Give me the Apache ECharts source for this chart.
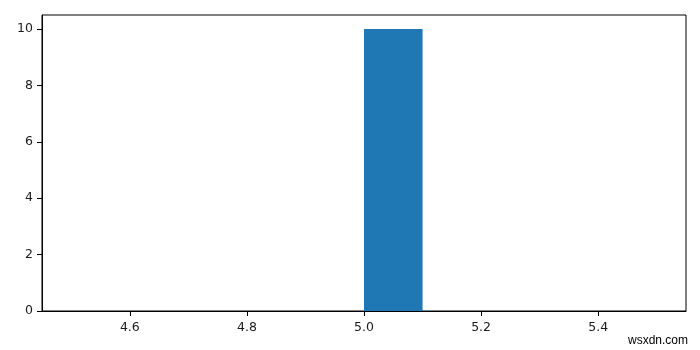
<!DOCTYPE html>
<html>
<head>
<meta charset="utf-8">
<script src="https://cdn.jsdelivr.net/npm/echarts@6/dist/echarts.min.js"></script>
<style>html,body{margin:0;padding:0;background:#fff}#c{width:700px;height:350px}</style>
</head>
<body>
<div id="c"></div>
<script>
// Histogram bin edges and counts
const binEdges = [4.5, 4.6, 4.7, 4.8, 4.9, 5.0, 5.1, 5.2, 5.3, 5.4, 5.5];
const counts = [0, 0, 0, 0, 0, 10, 0, 0, 0, 0];
const xTicks = [4.6, 4.8, 5.0, 5.2, 5.4];
const yTicks = [0, 2, 4, 6, 8, 10];

const data = counts.map((c, i) => [binEdges[i], binEdges[i + 1], c]);

const chart = echarts.init(document.getElementById('c'), null, {renderer: 'canvas'});
const font = 'DejaVu Sans';
chart.setOption({
  animation: false,
  grid: {left: 42, right: 14, top: 15, bottom: 39, show: true, borderColor: '#000', borderWidth: 1, backgroundColor: 'transparent'},
  xAxis: {
    type: 'value', min: 4.45, max: 5.55,
    axisLine: {show: true, onZero: false, lineStyle: {color: '#000', width: 1}},
    axisTick: {show: true, length: 5, lineStyle: {color: '#000'}, customValues: xTicks},
    axisLabel: {customValues: xTicks, formatter: v => v.toFixed(1), color: '#1a1a1a', fontFamily: font, fontSize: 12.5, margin: 10},
    splitLine: {show: false}
  },
  yAxis: {
    type: 'value', min: 0, max: 10.5,
    axisLine: {show: true, lineStyle: {color: '#000', width: 1}},
    axisTick: {show: true, length: 5, lineStyle: {color: '#000'}, customValues: yTicks},
    axisLabel: {customValues: yTicks, color: '#1a1a1a', fontFamily: font, fontSize: 12.5, margin: 9},
    splitLine: {show: false}
  },
  series: [{
    type: 'custom',
    data: data,
    encode: {x: [0, 1], y: 2},
    renderItem: function (params, api) {
      const p0 = api.coord([api.value(0), api.value(2)]);
      const p1 = api.coord([api.value(1), 0]);
      return {
        type: 'rect',
        shape: {x: p0[0], y: p0[1], width: p1[0] - p0[0], height: p1[1] - p0[1]},
        style: {fill: '#1f77b4'}
      };
    }
  }],
  graphic: [{
    type: 'text', right: 12, bottom: 3,
    style: {text: 'wsxdn.com', fill: '#000', font: '12px "Liberation Sans"'}
  }]
});
</script>
</body>
</html>
